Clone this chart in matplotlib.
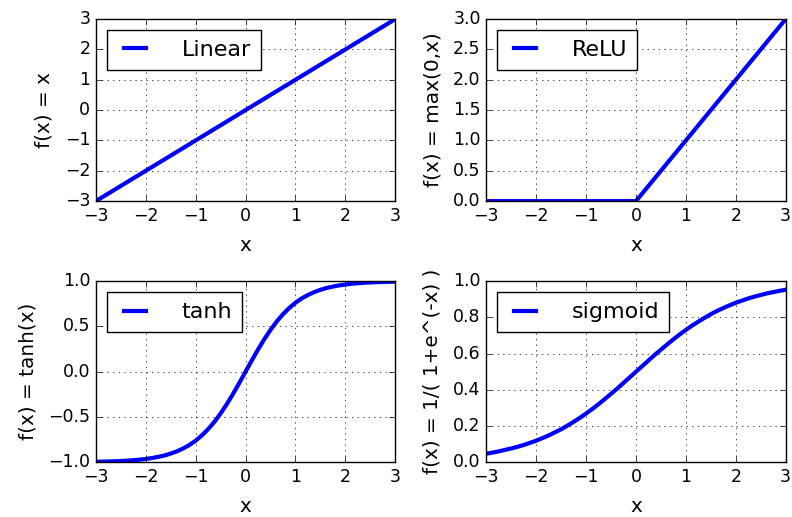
import matplotlib
matplotlib.use("Agg")
import matplotlib.pyplot as plt

# values
lin_x = [-3, 3]
lin_y = [-3, 3]

relu_x = [-3, 0, 3]
relu_y = [0, 0, 3]

curve_x = [-3.0, -2.875, -2.75, -2.625, -2.5, -2.375, -2.25, -2.125,
           -2.0, -1.875, -1.75, -1.625, -1.5, -1.375, -1.25, -1.125,
           -1.0, -0.875, -0.75, -0.625, -0.5, -0.375, -0.25, -0.125,
           0.0, 0.125, 0.25, 0.375, 0.5, 0.625, 0.75, 0.875,
           1.0, 1.125, 1.25, 1.375, 1.5, 1.625, 1.75, 1.875,
           2.0, 2.125, 2.25, 2.375, 2.5, 2.625, 2.75, 2.875, 3.0]
tanh_y = [-0.995, -0.994, -0.992, -0.990, -0.987, -0.983, -0.978, -0.972,
          -0.964, -0.954, -0.941, -0.926, -0.905, -0.880, -0.848, -0.810,
          -0.762, -0.704, -0.635, -0.555, -0.462, -0.358, -0.245, -0.124,
          0.0, 0.124, 0.245, 0.358, 0.462, 0.555, 0.635, 0.704,
          0.762, 0.810, 0.848, 0.880, 0.905, 0.926, 0.941, 0.954,
          0.964, 0.972, 0.978, 0.983, 0.987, 0.990, 0.992, 0.994, 0.995]
sigmoid_y = [0.047, 0.053, 0.060, 0.068, 0.076, 0.085, 0.095, 0.107,
             0.119, 0.133, 0.148, 0.165, 0.182, 0.202, 0.223, 0.245,
             0.269, 0.294, 0.321, 0.349, 0.378, 0.407, 0.438, 0.469,
             0.5, 0.531, 0.562, 0.593, 0.622, 0.651, 0.679, 0.706,
             0.731, 0.755, 0.777, 0.798, 0.818, 0.836, 0.852, 0.867,
             0.881, 0.893, 0.905, 0.915, 0.924, 0.933, 0.940, 0.947, 0.953]

plt.style.use("classic")
plt.rcParams["xtick.labelsize"] = 12.5
plt.rcParams["ytick.labelsize"] = 12.5
plt.rcParams["axes.labelsize"] = 14.4

fig = plt.figure(figsize=(7.92, 5.17), dpi=100, facecolor="white")

panels = [
    # (rect, x, y, label, ylabel, ylim)
    ([0.121, 0.611, 0.378, 0.352], lin_x, lin_y, "Linear", "f(x) = x", (-3, 3)),
    ([0.614, 0.611, 0.378, 0.352], relu_x, relu_y, "ReLU", "f(x) = max(0,x)", (0, 3)),
    ([0.121, 0.106, 0.378, 0.350], curve_x, tanh_y, "tanh", "f(x) = tanh(x)", (-1, 1)),
    ([0.614, 0.106, 0.378, 0.350], curve_x, sigmoid_y, "sigmoid", "f(x) = 1/( 1+e^(-x) )", (0, 1)),
]

for rect, xs, ys, label, ylabel, ylim in panels:
    ax = fig.add_axes(rect)
    ax.plot(xs, ys, color="blue", linewidth=3, label=label)
    ax.set_xlim(-3, 3)
    ax.set_ylim(*ylim)
    ax.set_xlabel("x", labelpad=8)
    ax.set_ylabel(ylabel, labelpad=8)
    ax.grid(True)
    ax.legend(loc="upper left", fontsize=16, handlelength=1.6,
              handletextpad=1.3, borderpad=0.45, borderaxespad=0.5)

fig.savefig("out.png", dpi=100, facecolor="white")
